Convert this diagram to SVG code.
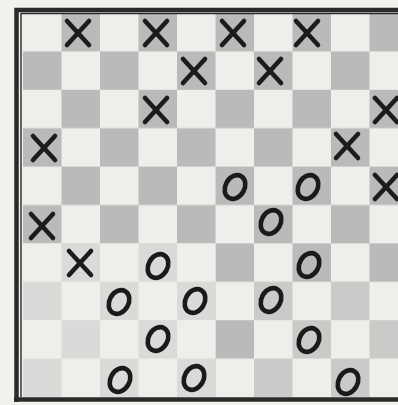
<svg xmlns="http://www.w3.org/2000/svg" xmlns:xlink="http://www.w3.org/1999/xlink" width="398" height="405" viewBox="0 0 398 405">
  <style>
    .piece-x line { stroke: #1c1c1c; stroke-width: 4.6; stroke-linecap: round; }
    .piece-o ellipse { fill: none; stroke: #1a1a1a; stroke-width: 4.6; }
    .frame { fill: none; stroke: #2a2a2a; }
  </style>
  <defs>
    <pattern id="checker" patternUnits="userSpaceOnUse" x="23" y="13" width="77" height="76.8">
      <rect x="0" y="0" width="77" height="76.8" fill="#eeeeea"/>
      <rect x="38.5" y="0" width="38.5" height="38.4" fill="#bababa"/>
      <rect x="0" y="38.4" width="38.5" height="38.4" fill="#bababa"/>
    </pattern>
    <g id="x" class="piece-x">
      <line x1="-11" y1="-12" x2="11" y2="12"/>
      <line x1="11" y1="-12" x2="-11" y2="12"/>
    </g>
    <g id="o" class="piece-o">
      <ellipse cx="0" cy="0" rx="9.5" ry="12.5" transform="rotate(30)"/>
    </g>
  </defs>

  <rect x="0" y="0" width="398" height="405" fill="#f1f1ed"/>

  <g id="board">
    <rect x="23" y="13" width="385" height="384" fill="url(#checker)"/>
    <rect x="23" y="243.4" width="192.5" height="153.6" fill="#eeeeea" opacity="0.62"/>
    <rect x="254" y="282" width="154" height="115" fill="#eeeeea" opacity="0.3"/>
    <path class="frame" d="M16.5 402 V10 H410" stroke-width="4.5"/>
    <path class="frame" d="M21 397 V13.5 H410" stroke-width="1.4"/>
    <path class="frame" d="M14 399.5 H410" stroke-width="4.5"/>
  </g>

  <g id="connectors"></g>

  <g id="x-pieces">
    <use id="x-r0c1" xlink:href="#x" x="78" y="33"/>
    <use id="x-r0c3" xlink:href="#x" x="156" y="33"/>
    <use id="x-r0c5" xlink:href="#x" x="233" y="33"/>
    <use id="x-r0c7" xlink:href="#x" x="307" y="33"/>
    <use id="x-r1c4" xlink:href="#x" x="194" y="71"/>
    <use id="x-r1c6" xlink:href="#x" x="270" y="71"/>
    <use id="x-r2c3" xlink:href="#x" x="156" y="110"/>
    <use id="x-r2c9" xlink:href="#x" x="386" y="110"/>
    <use id="x-r3c0" xlink:href="#x" x="44" y="148"/>
    <use id="x-r3c8" xlink:href="#x" x="347" y="146"/>
    <use id="x-r4c9" xlink:href="#x" x="386" y="187"/>
    <use id="x-r5c0" xlink:href="#x" x="42" y="226"/>
    <use id="x-r6c1" xlink:href="#x" x="80" y="263"/>
  </g>

  <g id="o-pieces">
    <use id="o-r4c5" xlink:href="#o" x="235" y="187"/>
    <use id="o-r4c7" xlink:href="#o" x="308" y="187"/>
    <use id="o-r5c6" xlink:href="#o" x="271" y="222"/>
    <use id="o-r6c3" xlink:href="#o" x="158" y="266"/>
    <use id="o-r6c7" xlink:href="#o" x="309" y="265"/>
    <use id="o-r7c2" xlink:href="#o" x="119" y="302"/>
    <use id="o-r7c4" xlink:href="#o" x="195" y="301"/>
    <use id="o-r7c6" xlink:href="#o" x="271" y="300"/>
    <use id="o-r8c3" xlink:href="#o" x="158" y="339"/>
    <use id="o-r8c7" xlink:href="#o" x="309" y="340"/>
    <use id="o-r9c2" xlink:href="#o" x="120" y="380"/>
    <use id="o-r9c4" xlink:href="#o" x="194" y="378"/>
    <use id="o-r9c8" xlink:href="#o" x="348" y="382"/>
  </g>
</svg>
